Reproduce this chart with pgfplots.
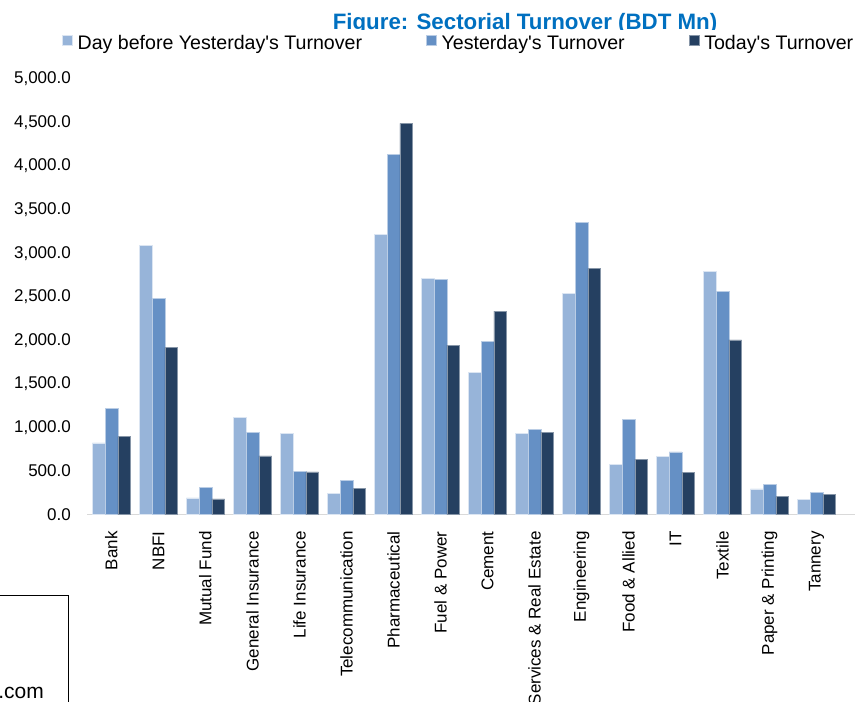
\documentclass[border=0pt]{standalone}
\usepackage{pgfplots}
\pgfplotsset{compat=1.18}
\usepackage{fontspec}
\setmainfont{Liberation Sans}
\definecolor{cLight}{HTML}{97B4D9}
\definecolor{cMid}{HTML}{6590C5}
\definecolor{cDark}{HTML}{254061}
\definecolor{cTitle}{HTML}{0070C0}
\definecolor{cAxis}{HTML}{D9D9D9}
\begin{document}
\begin{tikzpicture}[x=1pt,y=1pt]
\path[use as bounding box] (0,0) rectangle (856,701);
\clip (0,0) rectangle (856,701);
\node[anchor=base, font=\fontsize{22.3}{26}\selectfont\bfseries, text=cTitle, inner sep=0pt] at (525,671.7) {Figure: Sectorial Turnover (BDT Mn)};
\draw[line width=1.5pt] (-2,105.3) -- (68.3,105.3) -- (68.3,-2);
\node[anchor=base east, inner sep=0pt, font=\fontsize{21}{24}\selectfont] at (44,3) {.com};
\begin{axis}[
  at={(87.3pt,186.5pt)}, anchor=south west,
  scale only axis, width=767.7pt, height=435.5pt,
  xmin=-0.513, xmax=15.82, ymin=0, ymax=5000,
  ybar=0pt, bar width=12.73pt,
  axis x line*=bottom, axis y line*=left,
  x axis line style={draw=cAxis, line width=1.5pt, -},
  y axis line style={draw=none},
  xtick style={draw=none}, ytick style={draw=none},
  ytick={0,500,...,5000},
  yticklabel style={font=\fontsize{17}{20}\selectfont, anchor=east, inner sep=0pt, xshift=-16.3pt,
    /pgf/number format/.cd, fixed, fixed zerofill, precision=1, 1000 sep={,}, assume math mode=true},
  xtick={0,...,15},
  xticklabels={Bank, NBFI, Mutual Fund, General Insurance, Life Insurance, Telecommunication, Pharmaceutical, Fuel \& Power, Cement, Services \& Real Estate, Engineering, Food \& Allied, IT, Textile, Paper \& Printing, Tannery},
  xticklabel style={font=\fontsize{17}{20}\selectfont, yshift=-12.5pt, rotate=90, anchor=east, inner sep=0pt},
  legend columns=3,
  legend style={at={(-0.0330,1.0833)}, anchor=west, draw=none, fill=white, inner xsep=0pt, inner ysep=2.5pt,
    font=\fontsize{19.6}{22}\selectfont, cells={anchor=west},
    /tikz/every odd column/.append style={column sep=3pt},
    /tikz/every even column/.append style={column sep=62pt}},
  legend image code/.code={\fill[#1] (0pt,-3pt) rectangle (10pt,7pt);},
]
\addplot[fill=cLight, draw=cLight!35!white, line width=0.5pt] coordinates {(0,822) (1,3086) (2,192) (3,1111) (4,928) (5,243) (6,3212) (7,2712) (8,1628) (9,932) (10,2540) (11,576) (12,671) (13,2795) (14,293) (15,174)};
\addplot[fill=cMid, draw=cMid!45!white, line width=0.5pt] coordinates {(0,1219) (1,2483) (2,308) (3,939) (4,499) (5,396) (6,4135) (7,2696) (8,1991) (9,981) (10,3358) (11,1092) (12,718) (13,2558) (14,342) (15,251)};
\addplot[fill=cDark, draw=cDark!55!white, line width=0.5pt] coordinates {(0,893) (1,1919) (2,178) (3,672) (4,488) (5,297) (6,4490) (7,1946) (8,2336) (9,947) (10,2826) (11,637) (12,480) (13,2004) (14,204) (15,231)};
\legend{Day before Yesterday\textquotesingle s Turnover, Yesterday\textquotesingle s Turnover, Today\textquotesingle s Turnover}
\end{axis}
\end{tikzpicture}
\end{document}
